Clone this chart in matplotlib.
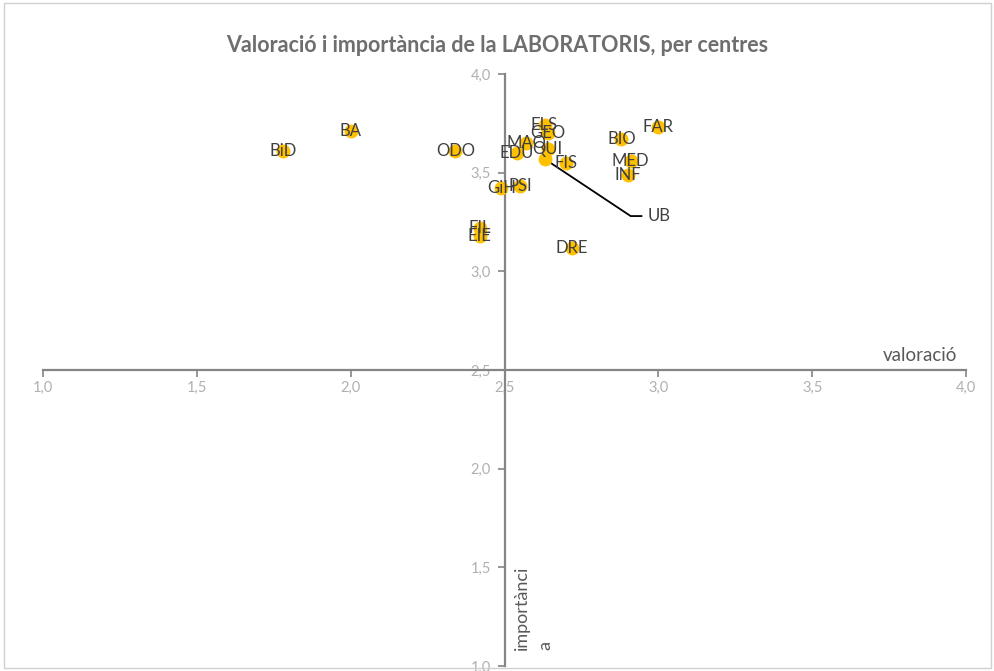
import matplotlib
matplotlib.use("Agg")
import matplotlib.pyplot as plt
from matplotlib.patches import Rectangle
from matplotlib.ticker import FuncFormatter, MultipleLocator

plt.rcParams['font.family'] = ['Lato', 'DejaVu Sans']

centres = ['BiD', 'BA', 'ODO', 'ELS', 'GEO', 'MAQ', 'EDU', 'QUI', 'FIS', 'UB',
           'PSI', 'GiH', 'FIL', 'EIE', 'DRE', 'BIO', 'FAR', 'MED', 'INF']
valoracio = [1.78, 2.00, 2.34, 2.63, 2.64, 2.57, 2.54, 2.64, 2.70, 2.63,
             2.55, 2.49, 2.42, 2.42, 2.72, 2.88, 3.00, 2.91, 2.90]
importancia = [3.61, 3.71, 3.61, 3.74, 3.70, 3.65, 3.60, 3.62, 3.55, 3.57,
               3.43, 3.42, 3.22, 3.18, 3.12, 3.67, 3.73, 3.56, 3.49]

title = "Valoració i importància de la LABORATORIS, per centres"
xlabel = "valoració"
ylabel = "importànci\na"

fig = plt.figure(figsize=(9.95, 6.71), dpi=100)
fig.patches.append(Rectangle((0.004, 0.004), 0.992, 0.991, transform=fig.transFigure,
                             fill=False, edgecolor='#d0d0d0', linewidth=1.0))
ax = fig.add_axes([0.0432, 0.00745, 0.9277, 0.8823])
ax.set_xlim(1.0, 4.0)
ax.set_ylim(1.0, 4.0)

ax.scatter(valoracio, importancia, s=100, color='#FFC000', zorder=3, linewidths=0)

txt_color = '#404040'
for name, xv, yv in zip(centres, valoracio, importancia):
    if name == 'UB':
        continue
    ax.text(xv, yv, name, ha='center', va='center', fontsize=12, color=txt_color, zorder=4)

# UB label with leader line
i = centres.index('UB')
ux, uy = valoracio[i], importancia[i]
ax.plot([ux, 2.91, 2.945], [uy, 3.28, 3.28], color='black', linewidth=1.3, zorder=2)
ax.text(2.965, 3.28, 'UB', ha='left', va='center', fontsize=12, color=txt_color, zorder=4)

# spines through (2.5, 2.5)
for s in ['top', 'right']:
    ax.spines[s].set_visible(False)
ax.spines['left'].set_position(('data', 2.5))
ax.spines['bottom'].set_position(('data', 2.5))
for s in ['left', 'bottom']:
    ax.spines[s].set_color('#858585')
    ax.spines[s].set_linewidth(1.6)

ax.xaxis.set_major_locator(MultipleLocator(0.5))
ax.yaxis.set_major_locator(MultipleLocator(0.5))
fmt = FuncFormatter(lambda v, p: f"{v:.1f}".replace('.', ','))
ax.xaxis.set_major_formatter(fmt)
ax.yaxis.set_major_formatter(fmt)
ax.tick_params(axis='both', direction='out', length=5, width=1.2, color='#858585',
               labelcolor='#b0b0b0', labelsize=10.5)
ax.tick_params(axis='x', pad=3)
ax.tick_params(axis='y', pad=5)

ax.text(3.97, 2.53, xlabel, ha='right', va='bottom', fontsize=13.5, color='#595959')
ax.text(2.53, 1.08, ylabel, ha='left', va='bottom', rotation=90, fontsize=13,
        color='#595959', linespacing=1.55)

fig.text(0.5, 0.932, title, ha='center', va='center', fontsize=15.5,
         fontweight='bold', color='#6e6e6e')

fig.savefig('out.png', dpi=100)
